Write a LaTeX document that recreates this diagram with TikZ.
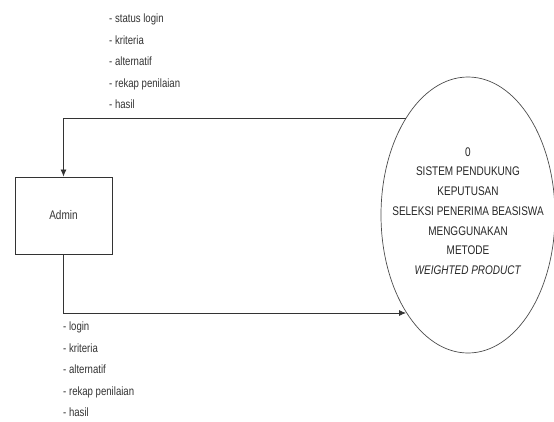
\documentclass[tikz,border=0pt]{standalone}
\usepackage{fontspec}
\setmainfont{Liberation Sans}[FakeStretch=0.82]
\newfontfamily\lblfont{Liberation Sans}[FakeStretch=0.8]
\newfontfamily\procfont{Liberation Sans}[FakeStretch=0.8]
\usetikzlibrary{arrows.meta,shapes.geometric}
\begin{document}
\begin{tikzpicture}[x=1pt,y=-1pt,
  lbl/.style={font=\lblfont\fontsize{12}{21.5}\selectfont, text=black!80, align=left, anchor=north west, inner sep=0pt},
  flow/.style={draw=black!80, line width=0.8pt, -{Latex[length=7pt,width=6pt]}},
  entity/.style={draw=black!80, line width=0.9pt, minimum width=97pt, minimum height=77pt, inner sep=0pt, font=\procfont\fontsize{12.5}{14}\selectfont, text=black!80},
  proc/.style={draw=black!70, line width=0.7pt, ellipse, minimum width=174pt, minimum height=276pt, inner sep=0pt},
  ptext/.style={font=\procfont\fontsize{12.5}{19.7}\selectfont, text=black!85, align=center, inner sep=0pt}]
\useasboundingbox (0,0) rectangle (554,421);
\node[entity] (admin) at (63.5,215.5) {Admin};
\node[proc] (e) at (468,215) {};
\node[ptext] (etext) at (468,211) {0\\SISTEM PENDUKUNG\\KEPUTUSAN\\SELEKSI PENERIMA BEASISWA\\MENGGUNAKAN\\METODE\\\textit{WEIGHTED PRODUCT}};
\coordinate (tin) at (406,118);
\coordinate (bin) at (406,313);
\draw[flow] (tin) -| (admin.north);
\draw[flow] (admin.south) |- (bin);
\node[lbl] (top) at (109,14) {- status login\\- kriteria\\- alternatif\\- rekap penilaian\\- hasil};
\node[lbl] (bot) at (63,322) {- login\\- kriteria\\- alternatif\\- rekap penilaian\\- hasil};
\end{tikzpicture}
\end{document}
